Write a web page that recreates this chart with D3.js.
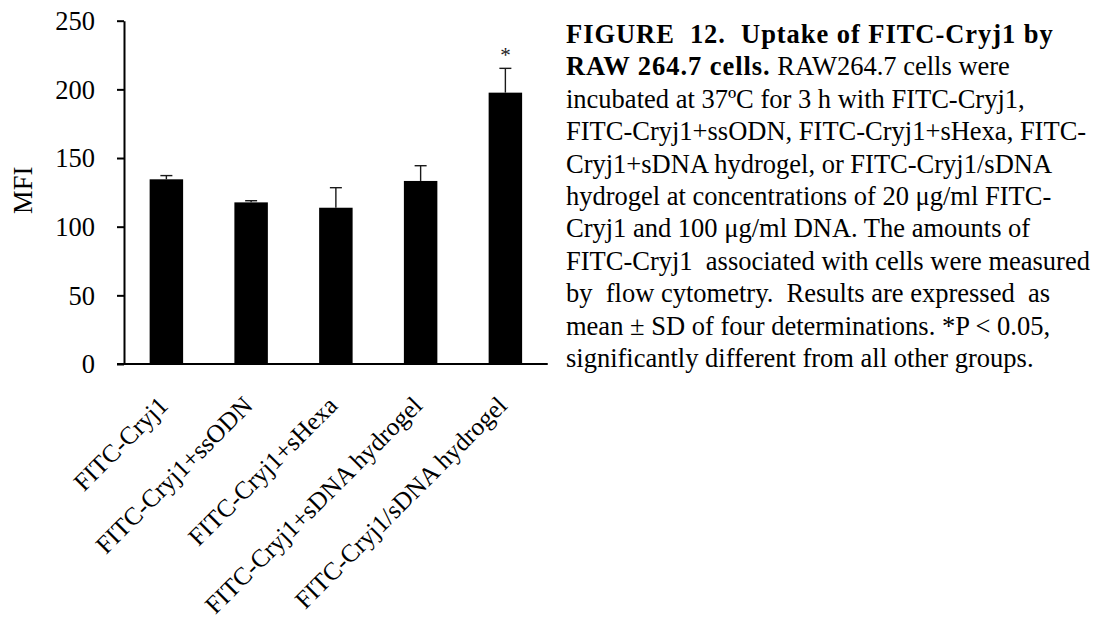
<!DOCTYPE html>
<html>
<head>
<meta charset="utf-8">
<script src="https://cdn.jsdelivr.net/npm/d3@7"></script>
<style>
  html, body { margin: 0; padding: 0; background: #fff; }
  svg { display: block; }
  text { font-family: "Liberation Serif", "Times New Roman", serif; fill: #000; }
</style>
</head>
<body>
<svg id="chart" width="1093" height="626"></svg>
<script>
// Groups and mean fluorescence intensity (mean ± SD, n = 4)
const categories = [
  "FITC-Cryj1",
  "FITC-Cryj1+ssODN",
  "FITC-Cryj1+sHexa",
  "FITC-Cryj1+sDNA hydrogel",
  "FITC-Cryj1/sDNA hydrogel"
];
const meanMFI = [134.5, 117.7, 113.8, 133.3, 197.6];
const sdMFI = [2.7, 1.2, 14.6, 11.1, 17.7];
const significant = [false, false, false, false, true];
const yTicks = [0, 50, 100, 150, 200, 250];
const yLabel = "MFI";

// Figure legend, one entry per printed line; bold runs flagged
const captionLines = [
  [["FIGURE  12.  Uptake of FITC-Cryj1 by", true]],
  [["RAW 264.7 cells.", true], [" RAW264.7 cells were", false]],
  [["incubated at 37\u00BAC for 3 h with FITC-Cryj1,", false]],
  [["FITC-Cryj1+ssODN, FITC-Cryj1+sHexa, FITC-", false]],
  [["Cryj1+sDNA hydrogel, or FITC-Cryj1/sDNA", false]],
  [["hydrogel at concentrations of 20 \u03BCg/ml FITC-", false]],
  [["Cryj1 and 100 \u03BCg/ml DNA. The amounts of", false]],
  [["FITC-Cryj1  associated with cells were measured", false]],
  [["by  flow cytometry.  Results are expressed  as", false]],
  [["mean \u00B1 SD of four determinations. *P < 0.05,", false]],
  [["significantly different from all other groups.", false]]
];

const svg = d3.select("#chart");
const plot = { left: 124, right: 547.75, top: 20.7, bottom: 364 };
const fontSize = 26.5;
const serif = '"Liberation Serif", "Times New Roman", serif';

const x = d3.scaleBand()
  .domain(categories)
  .range([plot.left, plot.right])
  .paddingInner(0.605)
  .paddingOuter(0.3025);

const y = d3.scaleLinear()
  .domain([0, 250])
  .range([plot.bottom, plot.top]);

const rows = categories.map((c, i) => ({
  name: c, mean: meanMFI[i], sd: sdMFI[i], sig: significant[i]
}));

// Bars
svg.append("g")
  .selectAll("rect")
  .data(rows)
  .join("rect")
  .attr("x", d => x(d.name))
  .attr("y", d => y(d.mean))
  .attr("width", x.bandwidth())
  .attr("height", d => y(0) - y(d.mean))
  .attr("fill", "#000");

// Upper error bars
const capHalf = 6;
const err = svg.append("g")
  .attr("stroke", "#1a1a1a")
  .attr("stroke-width", 1.4);
err.selectAll("line.stem")
  .data(rows)
  .join("line")
  .attr("class", "stem")
  .attr("x1", d => x(d.name) + x.bandwidth() / 2)
  .attr("x2", d => x(d.name) + x.bandwidth() / 2)
  .attr("y1", d => y(d.mean))
  .attr("y2", d => y(d.mean + d.sd));
err.selectAll("line.cap")
  .data(rows)
  .join("line")
  .attr("class", "cap")
  .attr("x1", d => x(d.name) + x.bandwidth() / 2 - capHalf)
  .attr("x2", d => x(d.name) + x.bandwidth() / 2 + capHalf)
  .attr("y1", d => y(d.mean + d.sd))
  .attr("y2", d => y(d.mean + d.sd));

// Significance marker
svg.append("g")
  .selectAll("text")
  .data(rows.filter(d => d.sig))
  .join("text")
  .attr("x", d => x(d.name) + x.bandwidth() / 2)
  .attr("y", d => y(d.mean + d.sd) - 6)
  .attr("text-anchor", "middle")
  .style("font-size", "21px")
  .style("fill", "#222")
  .text("*");

// Y axis
const yAxis = svg.append("g")
  .attr("transform", `translate(${plot.left},0)`)
  .call(d3.axisLeft(y).tickValues(yTicks).tickSize(7).tickPadding(22).tickSizeOuter(0));
yAxis.select(".domain").attr("stroke", "#000").attr("stroke-width", 2);
yAxis.selectAll(".tick line").attr("stroke", "#000").attr("stroke-width", 2);
yAxis.selectAll(".tick text")
  .style("font-size", fontSize + "px")
  .style("font-family", serif)
  .attr("fill", "#000")
  .attr("dy", "0.33em");

// X axis (baseline extends under the y tick marks)
const xAxis = svg.append("g")
  .attr("transform", `translate(0,${plot.bottom})`)
  .call(d3.axisBottom(x).tickSize(0).tickSizeOuter(0).tickPadding(0));
xAxis.select(".domain").remove();
xAxis.append("line")
  .attr("x1", plot.left - 7).attr("x2", plot.right)
  .attr("y1", 0).attr("y2", 0)
  .attr("stroke", "#000").attr("stroke-width", 2);
xAxis.selectAll(".tick text")
  .style("font-size", "25.3px")
  .style("font-family", serif)
  .attr("fill", "#000")
  .attr("text-anchor", "end")
  .attr("dy", null)
  .attr("y", 0)
  .attr("transform", "translate(3,43) rotate(-45)");

// Y axis title
svg.append("text")
  .attr("transform", `translate(32,${(plot.top + plot.bottom) / 2 - 2}) rotate(-90)`)
  .attr("text-anchor", "middle")
  .style("font-size", fontSize + "px")
  .style("font-family", serif)
  .text(yLabel);

// Legend text block
const cap = svg.append("text")
  .attr("x", 566)
  .attr("y", 43)
  .style("font-size", fontSize + "px")
  .style("font-family", serif)
  .style("white-space", "pre")
  .attr("xml:space", "preserve");
captionLines.forEach((line, i) => {
  line.forEach(([str, bold], j) => {
    const t = cap.append("tspan").text(str)
      .style("font-weight", bold ? "bold" : "normal")
      .style("letter-spacing", bold ? "0.95px" : "0px");
    if (j === 0) t.attr("x", 566).attr("y", 43 + i * 32.4);
  });
});
</script>
</body>
</html>
